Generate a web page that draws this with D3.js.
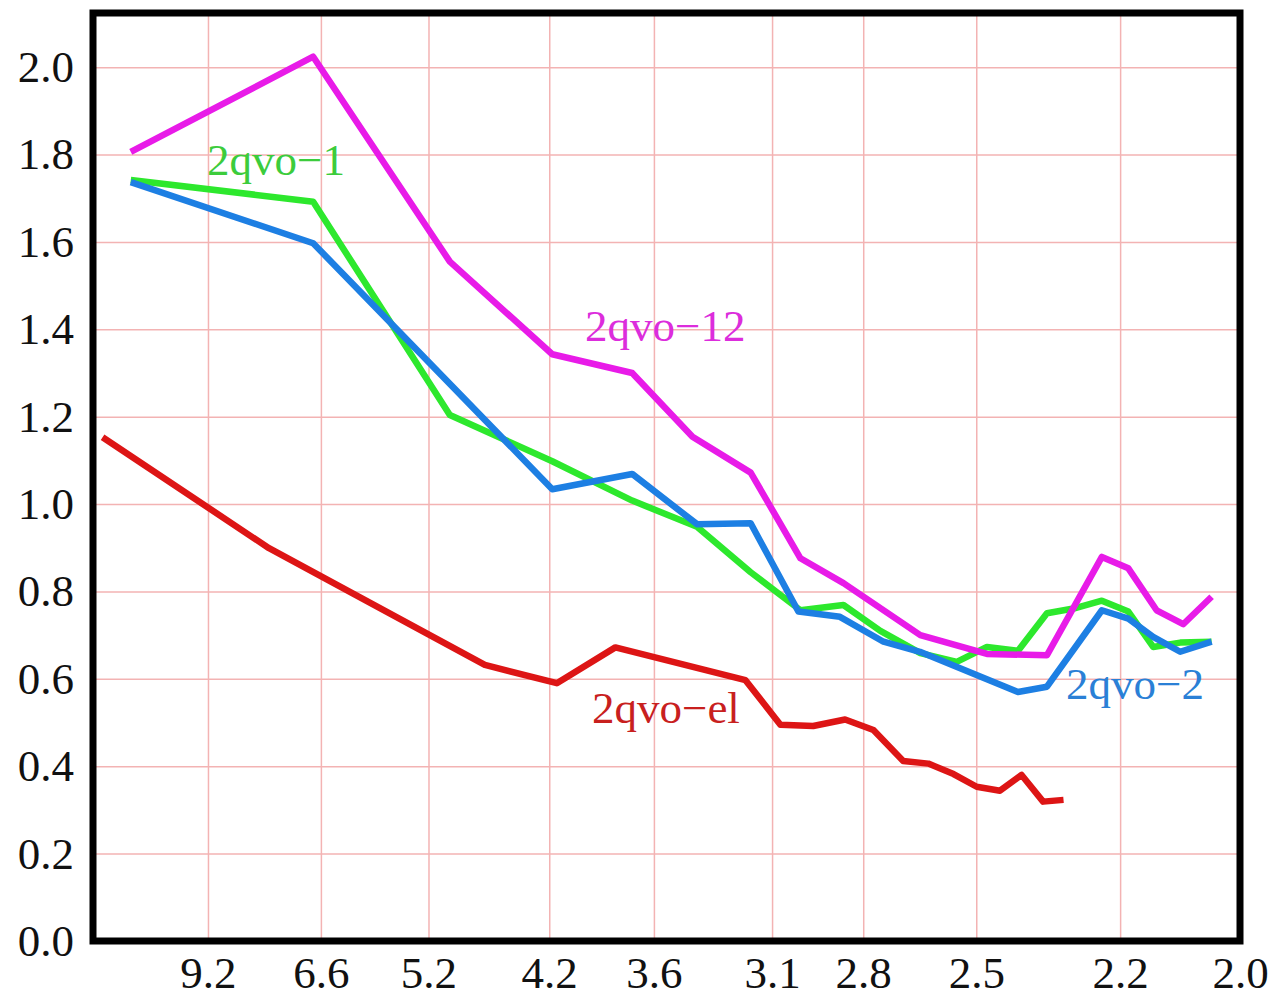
<!DOCTYPE html>
<html>
<head>
<meta charset="utf-8">
<script src="https://cdn.jsdelivr.net/npm/d3@7"></script>
<style>
    body { margin: 0; background: white; }
    text { font-family: "Liberation Serif", "Times New Roman", serif; }
</style>
</head>
<body>
<div id="chart"></div>
<script>
// resolution (A) of each point, and values per series
var res12 = [12.59, 6.73, 4.99, 4.18, 3.71, 3.42, 3.18, 3.00, 2.86, 2.64, 2.475, 2.343, 2.234, 2.185, 2.135, 2.09, 2.044];
var val12 = [1.806, 2.024, 1.555, 1.343, 1.300, 1.154, 1.072, 0.876, 0.819, 0.700, 0.657, 0.654, 0.879, 0.853, 0.757, 0.725, 0.788];

var res1 = [12.59, 6.73, 4.99, 4.18, 3.71, 3.40, 3.18, 3.00, 2.86, 2.75, 2.64, 2.547, 2.475, 2.405, 2.343, 2.289, 2.234, 2.185, 2.141, 2.095, 2.044];
var val1 = [1.742, 1.692, 1.204, 1.098, 1.008, 0.948, 0.844, 0.757, 0.769, 0.710, 0.659, 0.639, 0.673, 0.664, 0.750, 0.761, 0.779, 0.754, 0.673, 0.683, 0.685];

var res2 = [12.59, 6.73, 4.18, 3.71, 3.40, 3.18, 3.007, 2.871, 2.741, 2.641, 2.405, 2.343, 2.234, 2.185, 2.141, 2.095, 2.044];
var val2 = [1.737, 1.597, 1.034, 1.069, 0.954, 0.956, 0.754, 0.742, 0.685, 0.662, 0.570, 0.582, 0.757, 0.738, 0.696, 0.662, 0.685];

var resEl = [14.55, 7.585, 4.68, 4.15, 3.80, 3.20, 3.07, 2.957, 2.855, 2.770, 2.686, 2.619, 2.555, 2.499, 2.445, 2.397, 2.351, 2.309];
var valEl = [1.153, 0.899, 0.632, 0.590, 0.672, 0.597, 0.495, 0.492, 0.507, 0.483, 0.412, 0.406, 0.382, 0.353, 0.344, 0.380, 0.319, 0.323];

var xTickRes = [9.2, 6.6, 5.2, 4.2, 3.6, 3.1, 2.8, 2.5, 2.2, 2.0];
var xTickLabels = ["9.2", "6.6", "5.2", "4.2", "3.6", "3.1", "2.8", "2.5", "2.2", "2.0"];
var yTicks = [0.0, 0.2, 0.4, 0.6, 0.8, 1.0, 1.2, 1.4, 1.6, 1.8, 2.0];

var series = [
    {name: "2qvo\u2212el", res: resEl, val: valEl, color: "#dd1515", text: "#c8201e", lx: 592, ly: 723},
    {name: "2qvo\u22121", res: res1, val: val1, color: "#2de82d", text: "#3ccc3c", lx: 207, ly: 175},
    {name: "2qvo\u22122", res: res2, val: val2, color: "#1d7fe3", text: "#2a80d6", lx: 1066, ly: 699},
    {name: "2qvo\u221212", res: res12, val: val12, color: "#e81be8", text: "#dc2ddc", lx: 585, ly: 341}
];

var width = 1274, height = 998;
var margin = {top: 13, right: 34, bottom: 57, left: 93};

//
// Scales (x is linear in 1/d)
//
var x = d3.scaleLinear().domain([1 / 15.36, 1 / 2.0]).range([margin.left, width - margin.right]);
var y = d3.scaleLinear().domain([0, 2.124]).range([height - margin.bottom, margin.top]);

var svg = d3.select("#chart").append("svg")
    .attr("width", width)
    .attr("height", height);

svg.append("rect")
    .attr("width", width)
    .attr("height", height)
    .attr("fill", "white");

// gridlines
var gridColor = "#f3b3b3";
svg.append("g")
    .attr("transform", "translate(0," + y.range()[0] + ")")
    .call(d3.axisBottom(x)
          .tickValues(xTickRes.slice(0, -1).map(function(d) { return 1 / d; }))
          .tickSize(-(y.range()[0] - y.range()[1]))
          .tickFormat(""))
    .call(function(g) { g.select(".domain").remove(); })
    .selectAll("line")
    .attr("stroke", gridColor)
    .attr("stroke-width", 1.5);

svg.append("g")
    .attr("transform", "translate(" + x.range()[0] + ",0)")
    .call(d3.axisLeft(y)
          .tickValues(yTicks.slice(1))
          .tickSize(-(x.range()[1] - x.range()[0]))
          .tickFormat(""))
    .call(function(g) { g.select(".domain").remove(); })
    .selectAll("line")
    .attr("stroke", gridColor)
    .attr("stroke-width", 1.5);

//
// Lines
//
var line = d3.line()
    .x(function(d) { return x(1 / d[0]); })
    .y(function(d) { return y(d[1]); });

series.forEach(function(s) {
    svg.append("path")
        .datum(d3.zip(s.res, s.val))
        .attr("fill", "none")
        .attr("stroke", s.color)
        .attr("stroke-width", 6.5)
        .attr("stroke-linejoin", "round")
        .attr("d", line);
});

series.forEach(function(s) {
    svg.append("text")
        .attr("x", s.lx)
        .attr("y", s.ly)
        .attr("fill", s.text)
        .style("font-size", "45px")
        .text(s.name);
});

//
// Axes
//
var xAxis = svg.append("g")
    .attr("transform", "translate(0," + y.range()[0] + ")")
    .call(d3.axisBottom(x)
          .tickValues(xTickRes.map(function(d) { return 1 / d; }))
          .tickSize(0)
          .tickPadding(15)
          .tickFormat(function(d, i) { return xTickLabels[i]; }));

var yAxis = svg.append("g")
    .attr("transform", "translate(" + x.range()[0] + ",0)")
    .call(d3.axisLeft(y)
          .tickValues(yTicks)
          .tickSize(0)
          .tickPadding(19)
          .tickFormat(d3.format(".1f")));

[xAxis, yAxis].forEach(function(g) {
    g.select(".domain").remove();
    g.selectAll("text")
        .attr("fill", "#111")
        .style("font-family", "'Liberation Serif', 'Times New Roman', serif")
        .style("font-size", "45px");
});

// frame
svg.append("rect")
    .attr("x", x.range()[0])
    .attr("y", y.range()[1])
    .attr("width", x.range()[1] - x.range()[0])
    .attr("height", y.range()[0] - y.range()[1])
    .attr("fill", "none")
    .attr("stroke", "black")
    .attr("stroke-width", 7);
</script>
</body>
</html>
